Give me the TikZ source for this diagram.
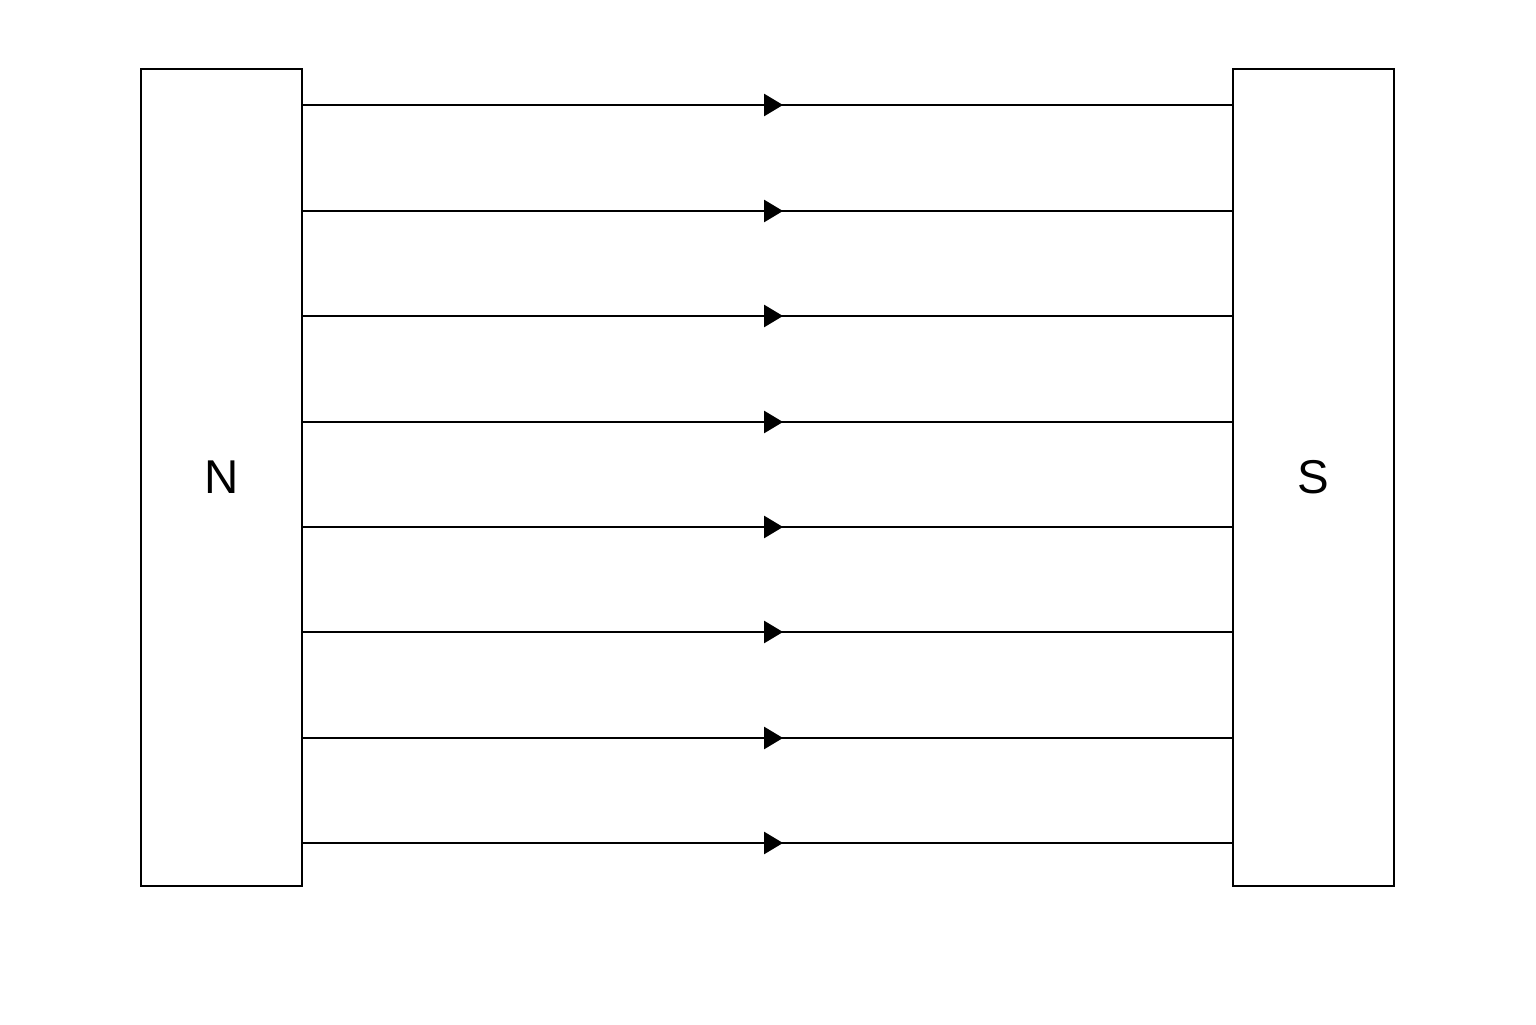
\documentclass[tikz,border=0pt]{standalone}
\usepackage{fontspec}
\setmainfont{Liberation Sans}
\usetikzlibrary{arrows.meta}

\begin{document}
\begin{tikzpicture}[line width=0.8pt,
                magnet/.style={draw, minimum width=1.61cm, minimum height=8.17cm, inner sep=0pt, font=\fontsize{13.5}{16}\selectfont},
                fieldline/.style={-{Triangle[length=1.9mm,width=2.2mm]}}]
                \useasboundingbox (0,0) rectangle (15.36,10.24);
                \node[magnet] (north) at (2.215,5.465) {N};
                \node[magnet] (south) at (13.135,5.465) {S};
                \foreach \y [count=\i] in {9.19,8.13,7.08,6.02,4.97,3.92,2.86,1.81}{
                    \coordinate (m\i) at (7.83,\y);
                    \draw[fieldline] (north.east |- m\i) -- (m\i);
                    \draw (m\i) ++(-0.05,0) -- (south.west |- m\i);
                }
            \end{tikzpicture}
\end{document}
